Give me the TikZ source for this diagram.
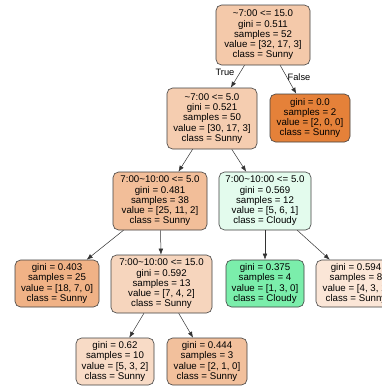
\documentclass[tikz,border=0pt]{standalone}
\usepackage{fontspec}
\setmainfont{Liberation Sans}
\usetikzlibrary{arrows.meta}

% node fill colours (class colour blended with white by purity)
\definecolor{rootc}{RGB}{244,201,170}
\definecolor{naC}{RGB}{245,205,176}
\definecolor{pure}{RGB}{229,129,57}
\definecolor{nbC}{RGB}{242,190,153}
\definecolor{cloudyL}{RGB}{227,251,237}
\definecolor{sunA}{RGB}{240,178,134}
\definecolor{sunB}{RGB}{246,213,189}
\definecolor{cloudyD}{RGB}{123,238,171}
\definecolor{sunC}{RGB}{251,230,215}
\definecolor{sunD}{RGB}{248,219,198}
\definecolor{sunE}{RGB}{242,192,156}

\tikzset{
  tree/.style={draw=black!75, line width=0.6pt, rounded corners=5.5pt,
    align=center, inner sep=0pt,
    font=\fontsize{9.7}{10.3}\selectfont},
  edge/.style={-{Latex[length=6pt,width=4.6pt]}, draw=black!80, line width=0.5pt},
  elabel/.style={font=\fontsize{9.3}{10}\selectfont, inner sep=0pt}
}

\begin{document}
\begin{tikzpicture}[x=1pt,y=-1pt]
\fill[white] (0,0) rectangle (382,386);
\clip (0,0) rectangle (382,386);

\node[tree, fill=rootc, minimum width=94pt, minimum height=60pt] (root) at (263,35)
  {\textasciitilde 7:00 <= 15.0\\gini = 0.511\\samples = 52\\value = [32, 17, 3]\\class = Sunny};
\node[tree, fill=naC, minimum width=90pt, minimum height=61pt] (na) at (212,118.5)
  {\textasciitilde 7:00 <= 5.0\\gini = 0.521\\samples = 50\\value = [30, 17, 3]\\class = Sunny};
\node[tree, fill=pure, minimum width=80pt, minimum height=48pt] (lf) at (310,118)
  {gini = 0.0\\samples = 2\\value = [2, 0, 0]\\class = Sunny};
\node[tree, fill=nbC, minimum width=94pt, minimum height=58pt] (nb) at (160,201)
  {7:00\textasciitilde 10:00 <= 5.0\\gini = 0.481\\samples = 38\\value = [25, 11, 2]\\class = Sunny};
\node[tree, fill=cloudyL, minimum width=92pt, minimum height=58pt] (nc) at (265,201)
  {7:00\textasciitilde 10:00 <= 5.0\\gini = 0.569\\samples = 12\\value = [5, 6, 1]\\class = Cloudy};
\node[tree, fill=sunA, minimum width=84pt, minimum height=47pt] (la) at (57,283.5)
  {gini = 0.403\\samples = 25\\value = [18, 7, 0]\\class = Sunny};
\node[tree, fill=sunB, minimum width=101pt, minimum height=58pt] (nd) at (161.5,284)
  {7:00\textasciitilde 10:00 <= 15.0\\gini = 0.592\\samples = 13\\value = [7, 4, 2]\\class = Sunny};
\node[tree, fill=cloudyD, minimum width=78pt, minimum height=47pt] (lc) at (265,283.5)
  {gini = 0.375\\samples = 4\\value = [1, 3, 0]\\class = Cloudy};
\node[tree, fill=sunC, minimum width=80pt, minimum height=47pt] (ld) at (356,283.5)
  {gini = 0.594\\samples = 8\\value = [4, 3, 1]\\class = Sunny};
\node[tree, fill=sunD, minimum width=78pt, minimum height=47pt] (le) at (115,361.5)
  {gini = 0.62\\samples = 10\\value = [5, 3, 2]\\class = Sunny};
\node[tree, fill=sunE, minimum width=80pt, minimum height=47pt] (lg) at (207,361.5)
  {gini = 0.444\\samples = 3\\value = [2, 1, 0]\\class = Sunny};

\draw[edge] (root) -- (na);
\draw[edge] (root) -- (lf);
\draw[edge] (na) -- (nb);
\draw[edge] (na) -- (nc);
\draw[edge] (nb) -- (la);
\draw[edge] (nb) -- (nd);
\draw[edge] (nc) -- (lc);
\draw[edge] (nc) -- (ld);
\draw[edge] (nd) -- (le);
\draw[edge] (nd) -- (lg);

\node[elabel] (ltrue) at (225,72) {True};
\node[elabel] (lfalse) at (299,77) {False};
\end{tikzpicture}
\end{document}
